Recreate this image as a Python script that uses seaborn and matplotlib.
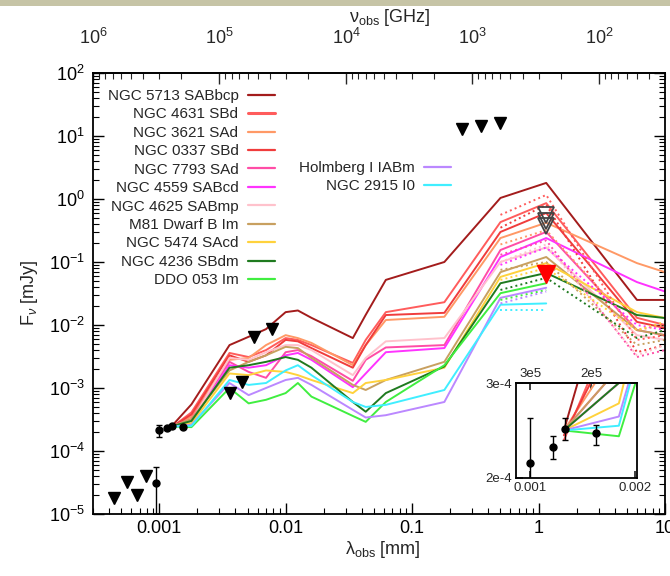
import numpy as np
import pandas as pd
import matplotlib
matplotlib.use("Agg")
import matplotlib.pyplot as plt
import seaborn as sns
from matplotlib.lines import Line2D
from matplotlib.patches import Rectangle
from matplotlib.ticker import NullLocator, FixedLocator, LogLocator

sns.set_theme(style="ticks")
plt.rcParams["font.family"] = ["Liberation Sans", "DejaVu Sans"]
plt.rcParams["mathtext.fontset"] = "custom"
plt.rcParams["mathtext.rm"] = "Liberation Sans"
plt.rcParams["mathtext.it"] = "Liberation Sans:italic"
plt.rcParams["mathtext.bf"] = "Liberation Sans:bold"

# ---------------- data ----------------
galaxies = ["NGC 5713 SABbcp", "NGC 4631 SBd", "NGC 3621 SAd", "NGC 0337 SBd",
            "NGC 7793 SAd", "NGC 4559 SABcd", "NGC 4625 SABmp", "M81 Dwarf B Im",
            "NGC 5474 SAcd", "NGC 4236 SBdm", "DDO 053 Im",
            "Holmberg I IABm", "NGC 2915 I0"]
colors = ["#a31c1c", "#ff5c5c", "#ff9966", "#f03c3c", "#ff4da6", "#ff33ff",
          "#ffc2cc", "#c8a060", "#ffd23c", "#1f7a1f", "#40ee40",
          "#bb88ff", "#40eeff"]

lam_grid = [0.00125, 0.0018, 0.0036, 0.0051, 0.0070, 0.0100, 0.0125, 0.016,
            0.034, 0.043, 0.062, 0.18, 0.50, 1.15, 6.0, 10.0]

f_5713 = [2.45e-4, 5.5e-4, 4.8e-3, 6.5e-3, 8.6e-3, 1.6e-2, 1.7e-2, 1.3e-2, 6.2e-3, 1.45e-2, 5.2e-2, 0.10, 1.04, 1.8, 0.025, 0.025]
f_4631 = [2.35e-4, 4.1e-4, 3.6e-3, 3.1e-3, 4.0e-3, 6.2e-3, 5.8e-3, 4.8e-3, 2.5e-3, 5.8e-3, 1.6e-2, 2.3e-2, 0.43, 0.86, 0.013, 0.010]
f_3621 = [2.45e-4, 3.5e-4, 2.8e-3, 3.0e-3, 4.8e-3, 6.9e-3, 6.2e-3, 5.2e-3, 2.3e-3, 4.8e-3, 1.2e-2, 1.35e-2, 0.24, 0.42, 0.096, 0.069]
f_0337 = [2.4e-4, 3.8e-4, 3.3e-3, 2.6e-3, 3.3e-3, 5.8e-3, 5.5e-3, 4.3e-3, 2.1e-3, 4.8e-3, 1.44e-2, 1.56e-2, 0.30, 0.60, 0.0112, 0.009]
f_7793 = [2.45e-4, 3.2e-4, 2.6e-3, 1.8e-3, 1.45e-3, 3.7e-3, 4.0e-3, 3.2e-3, 1.3e-3, 2.8e-3, 4.4e-3, 4.8e-3, 0.155, 0.30, 0.0083, 0.0069]
f_4559 = [2.45e-4, 3.0e-4, 2.3e-3, 2.1e-3, 2.3e-3, 3.3e-3, 3.6e-3, 2.8e-3, 1.03e-3, 1.7e-3, 3.7e-3, 4.3e-3, 0.12, 0.24, 0.048, 0.034]
f_4625 = [2.45e-4, 3.0e-4, 3.0e-3, 2.8e-3, 3.7e-3, 4.8e-3, 4.8e-3, 4.0e-3, 1.6e-3, 3.0e-3, 5.5e-3, 6.2e-3, 0.10, 0.17, 0.0069, 0.0058]
f_m81 = [2.45e-4, 3.2e-4, 1.9e-3, 2.6e-3, 3.3e-3, 4.5e-3, 4.3e-3, 3.0e-3, 1.12e-3, 9.3e-4, 1.34e-3, 2.6e-3, 0.069, 0.12, 0.0083, 0.0069]
f_5474 = [2.45e-4, 2.75e-4, 1.7e-3, 1.6e-3, 1.9e-3, 1.8e-3, 1.6e-3, 1.34e-3, 8.3e-4, 1.2e-3, 1.34e-3, 2.1e-3, 0.058, 0.096, 0.016, 0.0129]
f_4236 = [2.45e-4, 3.0e-4, 2.1e-3, 2.3e-3, 2.6e-3, 3.1e-3, 2.8e-3, 2.1e-3, 6.0e-4, 4.2e-4, 8.3e-4, 2.2e-3, 0.046, 0.067, 0.0144, 0.0129]
f_ddo053 = [2.45e-4, 2.39e-4, 1.0e-3, 5.7e-4, 6.5e-4, 8.3e-4, 1.2e-3, 7.3e-4, 3.6e-4, 2.9e-4, 6.0e-4, 2.3e-3, 0.032, 0.046]
f_hoI = [2.45e-4, 2.6e-4, 1.2e-3, 7.7e-4, 1.0e-3, 1.34e-3, 1.45e-3, 1.12e-3, 4.5e-4, 3.4e-4, 3.7e-4, 6.0e-4, 0.027, 0.039]
f_2915 = [2.45e-4, 2.5e-4, 1.34e-3, 1.12e-3, 1.2e-3, 1.9e-3, 2.3e-3, 1.6e-3, 6.0e-4, 5.0e-4, 5.4e-4, 9.3e-4, 0.021, 0.022]

# alternative (dotted) long-wavelength models
lam_dot = [0.50, 1.15, 6.0, 10.0]
d_4631 = [0.56, 1.16, 0.0058, 0.0069]
d_0337 = [0.35, 0.81, 0.0037, 0.0048]
d_3621 = [0.19, 0.32, 0.0083, 0.010]
d_7793 = [0.13, 0.22, 0.0031, 0.0040]
d_4559 = [0.09, 0.17, 0.010, 0.0083]
d_4625 = [0.10, 0.19, 0.0033, 0.0048]
d_m81 = [0.075, 0.10, 0.0048, 0.0058]
d_5474 = [0.052, 0.080, 0.0083, 0.0112]
d_4236 = [0.036, 0.056, 0.0062, 0.0083]
d_ddo053 = [0.025, 0.036]
d_hoI = [0.022, 0.034]
d_2915 = [0.017, 0.017]

# observations
det_lam = [0.00095, 0.0010, 0.00116, 0.00126, 0.00155]
det_flux = [3.1e-5, 2.13e-4, 2.28e-4, 2.47e-4, 2.42e-4]
det_err_lo = [2.1e-5, 0.45e-4, 0.11e-4, 0.12e-4, 0.12e-4]
det_err_hi = [2.5e-5, 0.45e-4, 0.11e-4, 0.11e-4, 0.09e-4]

ul_lam = [4.4e-4, 5.6e-4, 6.7e-4, 7.8e-4, 0.0036, 0.0045, 0.0056, 0.0078, 0.25, 0.35, 0.50]
ul_flux = [1.8e-5, 3.2e-5, 2.0e-5, 4.0e-5, 8.3e-4, 1.24e-3, 6.5e-3, 8.6e-3, 12.9, 14.4, 16.1]

open_lam = [1.15, 1.15, 1.15]
open_flux = [0.55, 0.45, 0.37]
red_lam = [1.15]
red_flux = [0.065]

# ---------------- build tables ----------------
solid = [f_5713, f_4631, f_3621, f_0337, f_7793, f_4559, f_4625, f_m81,
         f_5474, f_4236, f_ddo053, f_hoI, f_2915]
dotted = [None, d_4631, d_3621, d_0337, d_7793, d_4559, d_4625, d_m81,
          d_5474, d_4236, d_ddo053, d_hoI, d_2915]

rows = []
for g, vals in zip(galaxies, solid):
    for l, v in zip(lam_grid, vals):
        rows.append((g, l, v))
df = pd.DataFrame(rows, columns=["galaxy", "lam", "flux"])

drows = []
for g, vals in zip(galaxies, dotted):
    if vals is None:
        continue
    for l, v in zip(lam_dot, vals):
        drows.append((g, l, v))
ddf = pd.DataFrame(drows, columns=["galaxy", "lam", "flux"])

pal = dict(zip(galaxies, colors))


def lam2nu(x):
    x = np.asarray(x, dtype=float)
    with np.errstate(divide="ignore", invalid="ignore"):
        return 299.792458 / x


def minor_log():
    return LogLocator(base=10, subs=np.arange(2, 10), numticks=100)


# ---------------- figure ----------------
fig = plt.figure(figsize=(6.7, 5.76), dpi=100)
fig.patch.set_facecolor("white")
fig.add_artist(Rectangle((0, 1 - 6 / 576), 1, 6 / 576, transform=fig.transFigure,
                         facecolor="#c6c4a6", edgecolor="none"))

ax = fig.add_axes([93 / 670, 1 - 514 / 576, 572 / 670, 441 / 576])
ax.set_xscale("log")
ax.set_yscale("log")

sns.lineplot(data=df, x="lam", y="flux", hue="galaxy", palette=pal,
             estimator=None, sort=False, legend=False, lw=1.4, ax=ax)
sns.lineplot(data=ddf, x="lam", y="flux", hue="galaxy", palette=pal,
             estimator=None, sort=False, legend=False, lw=1.4, ax=ax,
             linestyle=":")

ax.errorbar(det_lam, det_flux, yerr=[det_err_lo, det_err_hi], fmt="o",
            color="black", ms=5, elinewidth=1.0, capsize=2, zorder=10)
ax.plot(ul_lam, ul_flux, "v", color="black", ms=8, zorder=10, ls="none")
ax.plot(open_lam, open_flux, "v", mfc="none", mec="#444444", mew=1.3, ms=11,
        zorder=10, ls="none")
ax.plot(red_lam, red_flux, "v", color="red", ms=13, zorder=11, ls="none")

ax.set_xlim(299.792458 / 1e6, 10)
ax.set_ylim(1e-5, 1e2)
ax.set_xlabel("")
ax.set_ylabel("")
ax.set_xticks([0.001, 0.01, 0.1, 1, 10])
ax.set_xticklabels(["0.001", "0.01", "0.1", "1", "10"])
ax.xaxis.set_minor_locator(minor_log())
ax.yaxis.set_major_locator(LogLocator(base=10, numticks=20))
ax.yaxis.set_minor_locator(minor_log())
ax.tick_params(axis="both", which="both", direction="in", top=False, right=True,
               colors="black", labelsize=13)
ax.tick_params(which="major", length=8, width=1.0)
ax.tick_params(which="minor", length=4, width=0.8)
ax.tick_params(axis="x", which="both", pad=4)
ax.tick_params(axis="y", which="both", pad=6)
for s in ax.spines.values():
    s.set_linewidth(1.3)
    s.set_color("black")

sec = ax.secondary_xaxis("top", functions=(lam2nu, lam2nu))
sec.xaxis.set_minor_locator(minor_log())
sec.tick_params(axis="x", which="both", direction="in", labelsize=13, pad=18)
sec.tick_params(which="major", length=8, width=1.0)
sec.tick_params(which="minor", length=4, width=0.8)
sec.spines["top"].set_linewidth(1.3)

fig.text(383 / 670, 1 - 550 / 576, r"λ$_{\rm obs}$ [mm]", ha="center", va="center", fontsize=13)
fig.text(390 / 670, 1 - 17 / 576, r"ν$_{\rm obs}$ [GHz]", ha="center", va="center", fontsize=13)
fig.text(30 / 670, 1 - 293 / 576, r"F$_{\nu}$ [mJy]", ha="center", va="center",
         fontsize=13, rotation=90)

# legends
h1 = [Line2D([], [], color=c, lw=2.2 if i == 1 else 1.6) for i, c in enumerate(colors[:11])]
leg1 = ax.legend(h1, galaxies[:11], loc="upper right", bbox_to_anchor=(0.337, 0.988),
                 frameon=False, markerfirst=False, fontsize=11, labelspacing=0.29,
                 handlelength=1.8, handletextpad=0.6, borderpad=0.2)
ax.add_artist(leg1)
h2 = [Line2D([], [], color=c, lw=1.6) for c in colors[11:]]
ax.legend(h2, galaxies[11:], loc="upper right", bbox_to_anchor=(0.645, 0.825),
          frameon=False, markerfirst=False, fontsize=11, labelspacing=0.29,
          handlelength=1.8, handletextpad=0.6, borderpad=0.2)

# ---------------- inset ----------------
axi = fig.add_axes([516 / 670, 1 - 478 / 576, 121 / 670, 95 / 576])
axi.set_xscale("log")
axi.set_yscale("log")
sns.lineplot(data=df, x="lam", y="flux", hue="galaxy", palette=pal,
             estimator=None, sort=False, legend=False, lw=1.4, ax=axi)
axi.errorbar(det_lam, det_flux, yerr=[det_err_lo, det_err_hi], fmt="o",
             color="black", ms=5, elinewidth=1.0, capsize=2, zorder=10)
axi.set_xlim(0.00091, 0.00203)
axi.set_ylim(2e-4, 3e-4)
axi.set_xlabel("")
axi.set_ylabel("")
axi.xaxis.set_major_locator(FixedLocator([0.001, 0.002]))
axi.xaxis.set_minor_locator(NullLocator())
axi.set_xticklabels(["0.001", "0.002"])
axi.yaxis.set_major_locator(FixedLocator([2e-4, 3e-4]))
axi.yaxis.set_minor_locator(NullLocator())
axi.set_yticklabels(["2e-4", "3e-4"])
axi.tick_params(axis="both", which="both", direction="in", labelsize=9.5,
                length=5, pad=3, top=False, right=False)
axi.set_facecolor("white")
for s in axi.spines.values():
    s.set_linewidth(1.3)
    s.set_color("black")
seci = axi.secondary_xaxis("top", functions=(lam2nu, lam2nu))
seci.xaxis.set_major_locator(FixedLocator([3e5, 2e5]))
seci.xaxis.set_minor_locator(NullLocator())
seci.set_xticklabels(["3e5", "2e5"])
seci.tick_params(axis="x", which="both", direction="in", labelsize=9.5, length=5, pad=2)

fig.savefig("out.png", dpi=100)
